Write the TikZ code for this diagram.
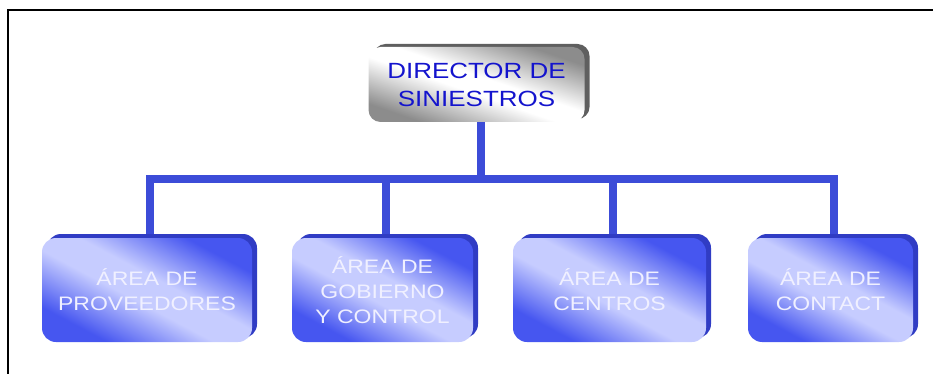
\documentclass[tikz,border=0pt]{standalone}
\usepackage{fontspec}
\newfontfamily\boxfont[FakeStretch=1.18]{Liberation Sans}
\usetikzlibrary{shadows}
\definecolor{dirtext}{RGB}{20,20,205}
\definecolor{dirrim}{RGB}{95,95,95}
\definecolor{dirgray}{RGB}{140,140,140}
\definecolor{boxlight}{RGB}{198,204,255}
\definecolor{boxblue}{RGB}{70,86,240}
\definecolor{boxrim}{RGB}{48,60,196}
\definecolor{areatext}{RGB}{240,240,255}
\definecolor{linkblue}{RGB}{60,76,216}
\pgfdeclareverticalshading{areashade}{100bp}{color(0bp)=(boxblue); color(27bp)=(boxblue);
	color(45bp)=(boxlight); color(55bp)=(boxlight); color(73bp)=(boxblue); color(100bp)=(boxblue)}
\pgfdeclareverticalshading{dirshade}{100bp}{color(0bp)=(dirgray); color(26bp)=(dirgray);
	color(46bp)=(white); color(54bp)=(white); color(74bp)=(dirgray); color(100bp)=(dirgray)}

\begin{document}
\begin{tikzpicture}[x=1pt,y=1pt,
	director/.style={rounded corners=12pt, minimum width=216pt, minimum height=75pt, inner sep=0pt, align=center,
		shading=dirshade, shading angle=-19,
		general shadow={shadow xshift=5pt, shadow yshift=3pt, fill=dirrim},
		text=dirtext, font=\boxfont\fontsize{22}{28}\selectfont},
	area/.style={rounded corners=14pt, minimum height=104pt, inner sep=0pt, align=center,
		shading=areashade, shading angle=-28,
		general shadow={shadow xshift=5pt, shadow yshift=4pt, fill=boxrim},
		text=areatext, font=\boxfont\fontsize{19.5}{25}\selectfont},
	link/.style={line width=8pt, linkblue, line join=miter}]
	\useasboundingbox (0,0) rectangle (933,-374);
	% frame
	\draw[line width=2pt] (8,-374) -- (8,-10) -- (933,-10);
	% boxes
	\node[director] (dir) at (476.5,-84.5) {DIRECTOR DE\\SINIESTROS};
	\node[area, minimum width=210pt] (prov) at (147,-290) {ÁREA DE\\PROVEEDORES};
	\node[area, minimum width=181pt] (gob) at (382.5,-290) {ÁREA DE\\GOBIERNO\\Y CONTROL};
	\node[area, minimum width=193pt] (cen) at (609.5,-290) {ÁREA DE\\CENTROS};
	\node[area, minimum width=165pt] (con) at (830.5,-290) {ÁREA DE\\CONTACT};
	% lines
	\coordinate (bus) at (481,-179);
	\draw[link] ([xshift=4.5pt]dir.south) -- (bus);
	\foreach \b in {prov,gob,cen,con}
		\draw[link] (bus) -| ([xshift=3pt,yshift=4pt]\b.north);
\end{tikzpicture}
\end{document}
